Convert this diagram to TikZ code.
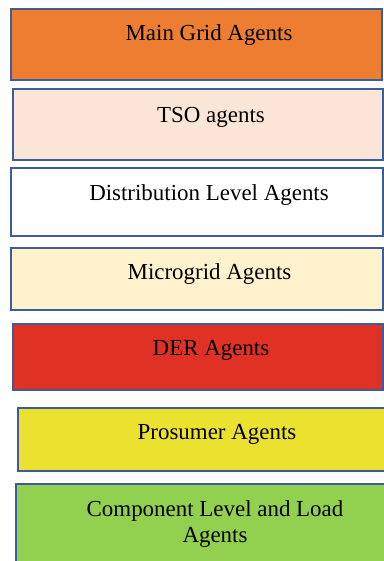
\documentclass[tikz,border=0pt]{standalone}
\usepackage{fontspec}
\setmainfont{Liberation Serif}
\usepackage{xcolor}
\usepackage{tikz}
\usetikzlibrary{positioning}

\definecolor{edgeblue}{HTML}{3D5C98}
\definecolor{gridorange}{HTML}{ED7D31}
\definecolor{tsopeach}{HTML}{FBE5D6}
\definecolor{mgcream}{HTML}{FFF2CC}
\definecolor{derred}{HTML}{E03224}
\definecolor{prosyellow}{HTML}{EAE22F}
\definecolor{compgreen}{HTML}{92D050}

\begin{document}
\begin{tikzpicture}[
    x=0.75pt, y=-0.75pt,
    layer/.style={draw=edgeblue, line width=1.6pt, anchor=north west, inner sep=0pt, outer sep=0pt},
    lbl/.style={font=\fontsize{17.2}{20}\selectfont, inner sep=0pt, anchor=base, align=center}
]
\useasboundingbox (0,0) rectangle (384,561);

% layers, top to bottom
\node[layer, fill=gridorange, minimum width=278.25pt, minimum height=53.25pt] (main) at (11,9) {};
\node[layer, fill=tsopeach, minimum width=277.5pt, minimum height=53.25pt] (tso) at (13,89) {};
\node[layer, fill=white, minimum width=279pt, minimum height=51pt] (dist) at (11,168) {};
\node[layer, fill=mgcream, minimum width=279pt, minimum height=46.5pt] (micro) at (11,248) {};
\node[layer, fill=derred, minimum width=277.5pt, minimum height=49.5pt] (der) at (13,324) {};
\node[layer, fill=prosyellow, minimum width=279pt, minimum height=47.25pt] (pros) at (18,408) {};
\node[layer, fill=compgreen, minimum width=280.5pt, minimum height=64.5pt] (comp) at (16,484) {};

% texts
\node[lbl] (mainTxt) at (209,40.7) {Main Grid Agents};
\node[lbl] (tsoTxt) at (211,122.7) {TSO agents};
\node[lbl] (distTxt) at (209,200) {Distribution Level Agents};
\node[lbl] (microTxt) at (209.5,279.3) {Microgrid Agents};
\node[lbl] (derTxt) at (211,355) {DER Agents};
\node[lbl] (prosTxt) at (217,439) {Prosumer Agents};
\node[lbl] (compTxt) at (215,542.7) {Component Level and Load\\Agents};
\end{tikzpicture}
\end{document}
